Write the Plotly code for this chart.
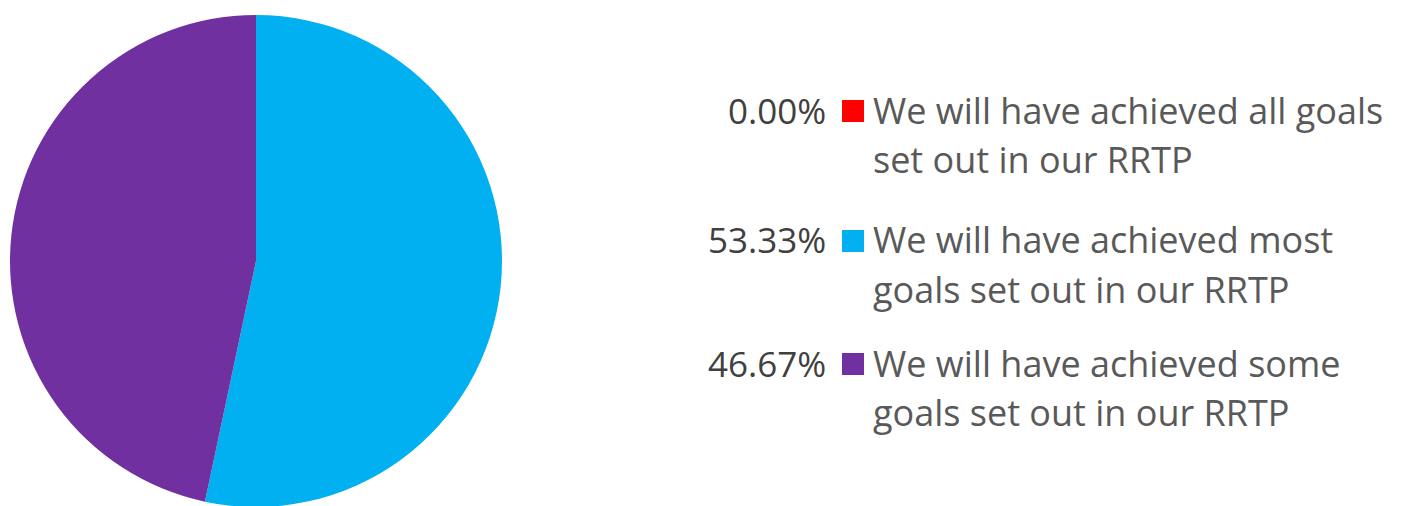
import plotly.graph_objects as go

# ---- data ----
categories = [
    "We will have achieved all goals set out in our RRTP",
    "We will have achieved most goals set out in our RRTP",
    "We will have achieved some goals set out in our RRTP",
]
label_lines = [
    ["We will have achieved all goals", "set out in our RRTP"],
    ["We will have achieved most", "goals set out in our RRTP"],
    ["We will have achieved some", "goals set out in our RRTP"],
]
percent_labels = ["0.00%", "53.33%", "46.67%"]
values = [0.00, 53.33, 46.67]
colors = ["#FF0000", "#00B0F0", "#7030A0"]

W, H = 1404, 506
OFF = 8  # browser default body margin
ML, MR, MT, MB = 0, 0, 7, 7
PW, PH = W - ML - MR, H - MT - MB


def px_x(p):
    return (p - OFF - ML) / PW


def px_y(p):
    return (H - MB - (p - OFF)) / PH


fig = go.Figure()
fig.add_trace(go.Pie(
    labels=categories,
    values=values,
    marker=dict(colors=colors, line=dict(width=0)),
    sort=False,
    direction="clockwise",
    rotation=0,
    textinfo="none",
    hoverinfo="label+percent",
    showlegend=False,
    domain=dict(x=[px_x(10), px_x(502)], y=[0, 1]),
))

FONT = "Open Sans"
row_mid = [110, 240, 363]
line_gap = 49
annotations = []
shapes = []
for i, (pl, lines) in enumerate(zip(percent_labels, label_lines)):
    yc = row_mid[i]
    annotations.append(dict(
        x=px_x(828), y=px_y(yc), xref="paper", yref="paper",
        text=pl, showarrow=False, xanchor="right", yanchor="middle",
        font=dict(family=FONT, size=35, color="#404040"),
    ))
    for j, ln in enumerate(lines):
        annotations.append(dict(
            x=px_x(871), y=px_y(yc + j * line_gap), xref="paper", yref="paper",
            text=ln, showarrow=False, xanchor="left", yanchor="middle",
            font=dict(family=FONT, size=36, color="#595959"),
        ))
    shapes.append(dict(
        type="rect", xref="paper", yref="paper",
        x0=px_x(842), x1=px_x(864), y0=px_y(yc - 10), y1=px_y(yc + 12),
        fillcolor=colors[i], line=dict(width=0),
    ))

fig.update_layout(
    width=W, height=H,
    margin=dict(l=ML, r=MR, t=MT, b=MB),
    paper_bgcolor="white", plot_bgcolor="white",
    annotations=annotations, shapes=shapes,
)

fig.write_html("out.html")
